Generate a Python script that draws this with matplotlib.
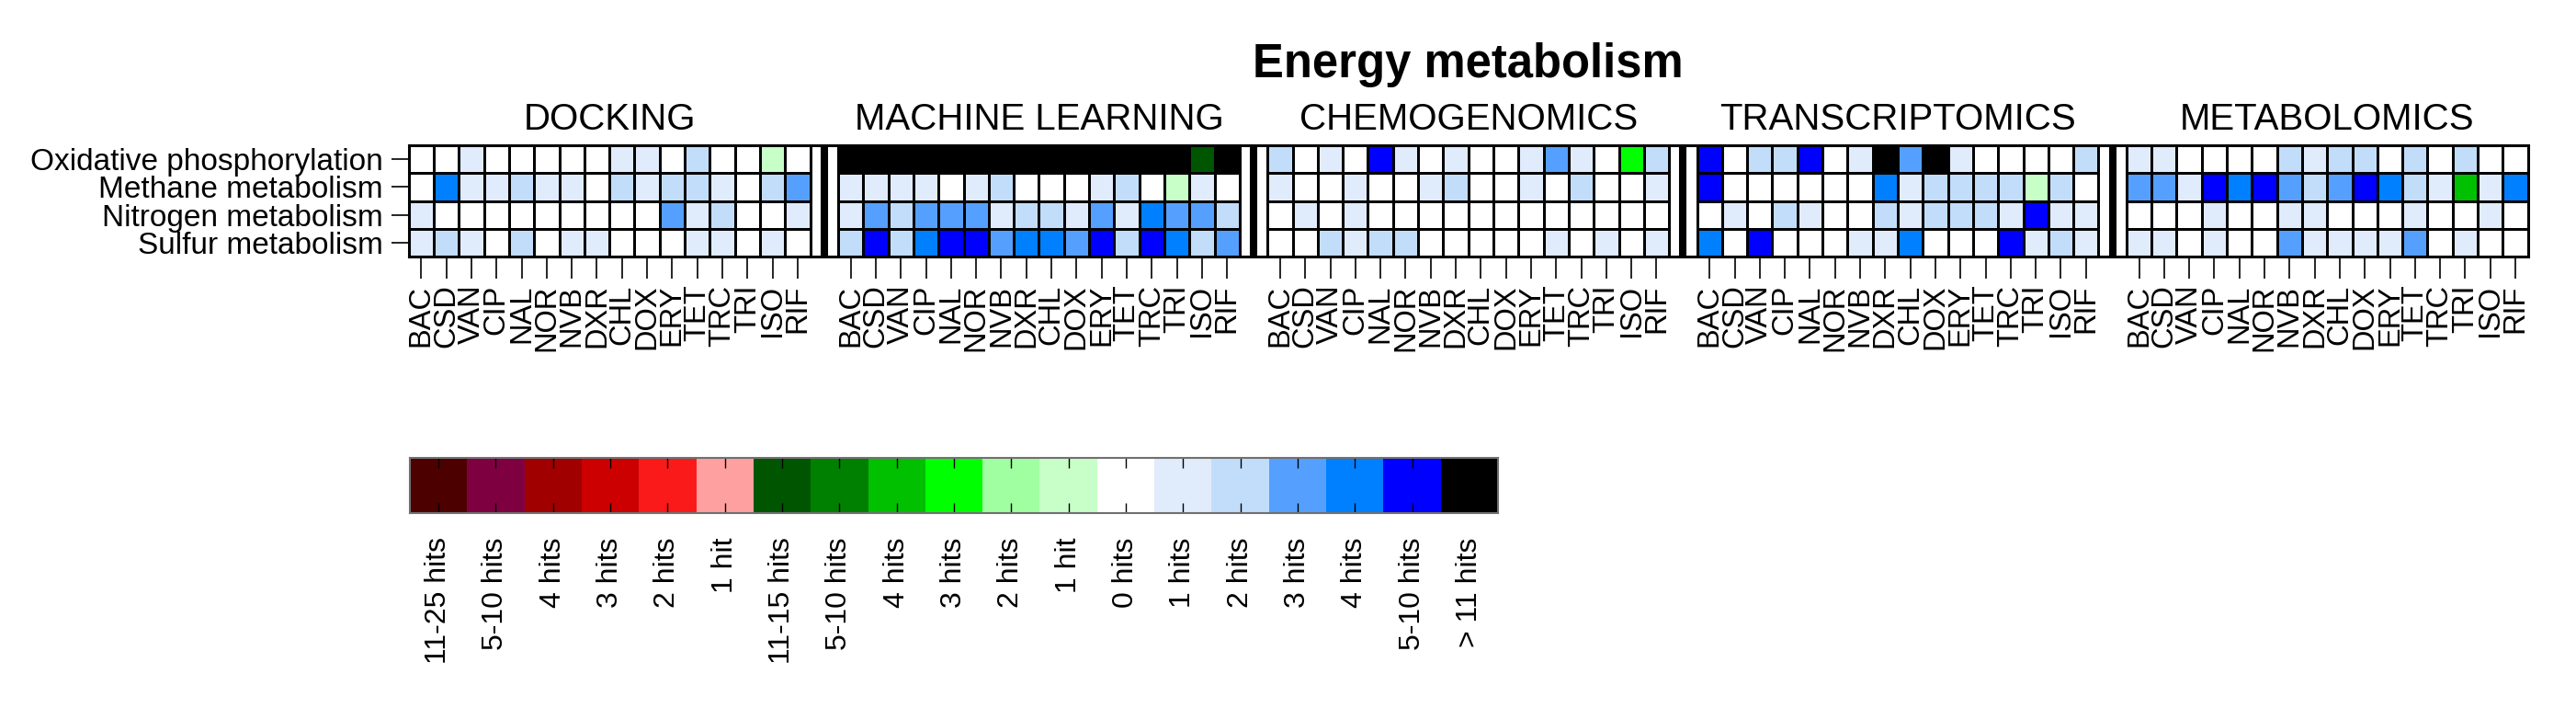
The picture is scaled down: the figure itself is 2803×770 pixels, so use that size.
import numpy as np
import matplotlib
matplotlib.use("Agg")
import matplotlib.pyplot as plt
from matplotlib.colors import ListedColormap, BoundaryNorm

plt.rcParams['font.family'] = ['Liberation Sans', 'DejaVu Sans']

# Hit levels: 0 = no hit, 1..6 = blue scale (1, 2, 3, 4, 5-10, >11 hits),
# -1..-6 = green scale (1, 2, 3, 4, 5-10, 11-15 hits), -7..-12 = red scale
drugs = ["BAC", "CSD", "VAN", "CIP", "NAL", "NOR", "NVB", "DXR",
         "CHL", "DOX", "ERY", "TET", "TRC", "TRI", "ISO", "RIF"]
pathways = ["Oxidative phosphorylation", "Methane metabolism",
            "Nitrogen metabolism", "Sulfur metabolism"]
methods = ["DOCKING", "MACHINE LEARNING", "CHEMOGENOMICS",
           "TRANSCRIPTOMICS", "METABOLOMICS"]

docking = [
    [0, 0, 1, 0, 0, 0, 0, 0, 1, 1, 0, 2, 0, 0, -1, 0],
    [0, 4, 1, 1, 2, 1, 1, 0, 2, 1, 2, 2, 1, 0, 2, 3],
    [1, 0, 0, 0, 0, 0, 0, 0, 0, 0, 3, 1, 2, 0, 0, 1],
    [1, 2, 1, 0, 2, 0, 1, 1, 0, 0, 0, 1, 1, 0, 1, 0],
]
machine_learning = [
    [6, 6, 6, 6, 6, 6, 6, 6, 6, 6, 6, 6, 6, 6, -6, 6],
    [1, 1, 1, 1, 0, 1, 2, 0, 0, 0, 1, 2, 0, -1, 1, 0],
    [1, 3, 2, 3, 3, 3, 1, 2, 2, 1, 3, 1, 4, 3, 3, 2],
    [2, 5, 2, 4, 5, 5, 3, 4, 4, 3, 5, 2, 5, 4, 2, 3],
]
chemogenomics = [
    [2, 0, 1, 0, 5, 1, 0, 1, 0, 0, 1, 3, 1, 0, -3, 2],
    [1, 0, 0, 1, 0, 0, 1, 2, 0, 0, 1, 0, 2, 0, 0, 1],
    [0, 1, 0, 1, 0, 0, 0, 0, 0, 0, 0, 0, 0, 0, 0, 0],
    [0, 0, 2, 1, 2, 2, 0, 0, 0, 0, 0, 1, 0, 1, 0, 1],
]
transcriptomics = [
    [5, 0, 2, 2, 5, 0, 1, 6, 3, 6, 1, 0, 0, 0, 0, 2],
    [5, 0, 0, 0, 0, 0, 0, 4, 1, 2, 2, 2, 2, -1, 2, 0],
    [0, 1, 0, 2, 1, 0, 0, 2, 1, 2, 2, 2, 1, 5, 1, 1],
    [4, 0, 5, 0, 0, 0, 1, 1, 4, 0, 0, 0, 5, 1, 2, 1],
]
metabolomics = [
    [1, 1, 0, 0, 0, 0, 2, 1, 2, 2, 0, 2, 0, 2, 0, 0],
    [3, 3, 1, 5, 4, 5, 3, 2, 3, 5, 4, 2, 1, -4, 1, 4],
    [0, 0, 0, 1, 0, 0, 1, 1, 0, 0, 0, 1, 0, 0, 1, 0],
    [1, 1, 0, 1, 0, 0, 3, 1, 1, 1, 1, 3, 0, 1, 0, 0],
]
panels = [docking, machine_learning, chemogenomics, transcriptomics, metabolomics]

legend_levels = list(range(-12, 7))
legend_labels = ["11-25 hits", "5-10 hits", "4 hits", "3 hits", "2 hits", "1 hit",
                 "11-15 hits", "5-10 hits", "4 hits", "3 hits", "2 hits", "1 hit",
                 "0 hits", "1 hits", "2 hits", "3 hits", "4 hits", "5-10 hits",
                 "> 11 hits"]
colors = ["#4c0000", "#7f0040", "#a00000", "#cc0000", "#fa1a1a", "#ffa0a0",
          "#005500", "#008000", "#00c000", "#00ff00", "#a0ffa0", "#c8ffc8",
          "#ffffff",
          "#e0ebfb", "#c2ddfa", "#55a0ff", "#0080ff", "#0000ff", "#000000"]
cmap = ListedColormap(colors)
norm = BoundaryNorm(np.arange(-12.5, 7.5, 1), cmap.N)

W, H = 2803, 770
fig = plt.figure(figsize=(W / 100, H / 100), dpi=100)

# heatmap
ax = fig.add_axes([444.7 / W, 1 - 279 / H, (2750.7 - 444.7) / W, (279 - 158) / H])
gap = 1.117
step = len(drugs) + gap
ticks, ticklabels = [], []
for p, data in enumerate(panels):
    x0 = p * step
    ax.pcolormesh(x0 + np.arange(len(drugs) + 1), np.arange(len(pathways) + 1),
                  np.array(data), cmap=cmap, norm=norm,
                  edgecolors="black", linewidth=2.0)
    ax.text(x0 + len(drugs) / 2, -0.93, methods[p], ha="center", va="center",
            fontsize=29)
    if p < len(panels) - 1:
        ax.vlines(x0 + len(drugs) + gap / 2, 0, len(pathways), color="black", lw=5.8)
    ticks += list(x0 + 0.5 + np.arange(len(drugs)))
    ticklabels += drugs

total = len(panels) * len(drugs) + (len(panels) - 1) * gap
ax.set_xlim(0, total)
ax.set_ylim(len(pathways), 0)
ax.set_xticks(ticks)
ax.set_xticklabels(ticklabels, rotation=90, fontsize=23.5)
ax.set_yticks(0.5 + np.arange(len(pathways)))
ax.set_yticklabels(pathways, fontsize=24)
ax.tick_params(axis="x", length=17, width=1.2, pad=5)
ax.tick_params(axis="y", length=14, width=1.2, pad=6)
for s in ax.spines.values():
    s.set_linewidth(2.2)
ax.text(total / 2, -2.9, "Energy metabolism", ha="center", va="center",
        fontsize=36.5, fontweight="bold")

# colour key
cax = fig.add_axes([446 / W, 1 - 558 / H, (1630 - 446) / W, 60 / H])
cax.pcolormesh(np.arange(len(legend_levels) + 1), [0, 1],
               np.array(legend_levels)[None, :], cmap=cmap, norm=norm)
cax.set_xlim(0, len(legend_levels))
cax.set_ylim(0, 1)
cax.set_xticks(0.5 + np.arange(len(legend_levels)))
cax.set_xticklabels(legend_labels, rotation=90, fontsize=23)
cax.set_yticks([])
cax.tick_params(axis="x", direction="in", length=8, width=1.0, top=True,
                labeltop=False, pad=19)
for s in cax.spines.values():
    s.set_linewidth(1.5)
    s.set_color("#707070")

fig.savefig("out.png", dpi=100)
